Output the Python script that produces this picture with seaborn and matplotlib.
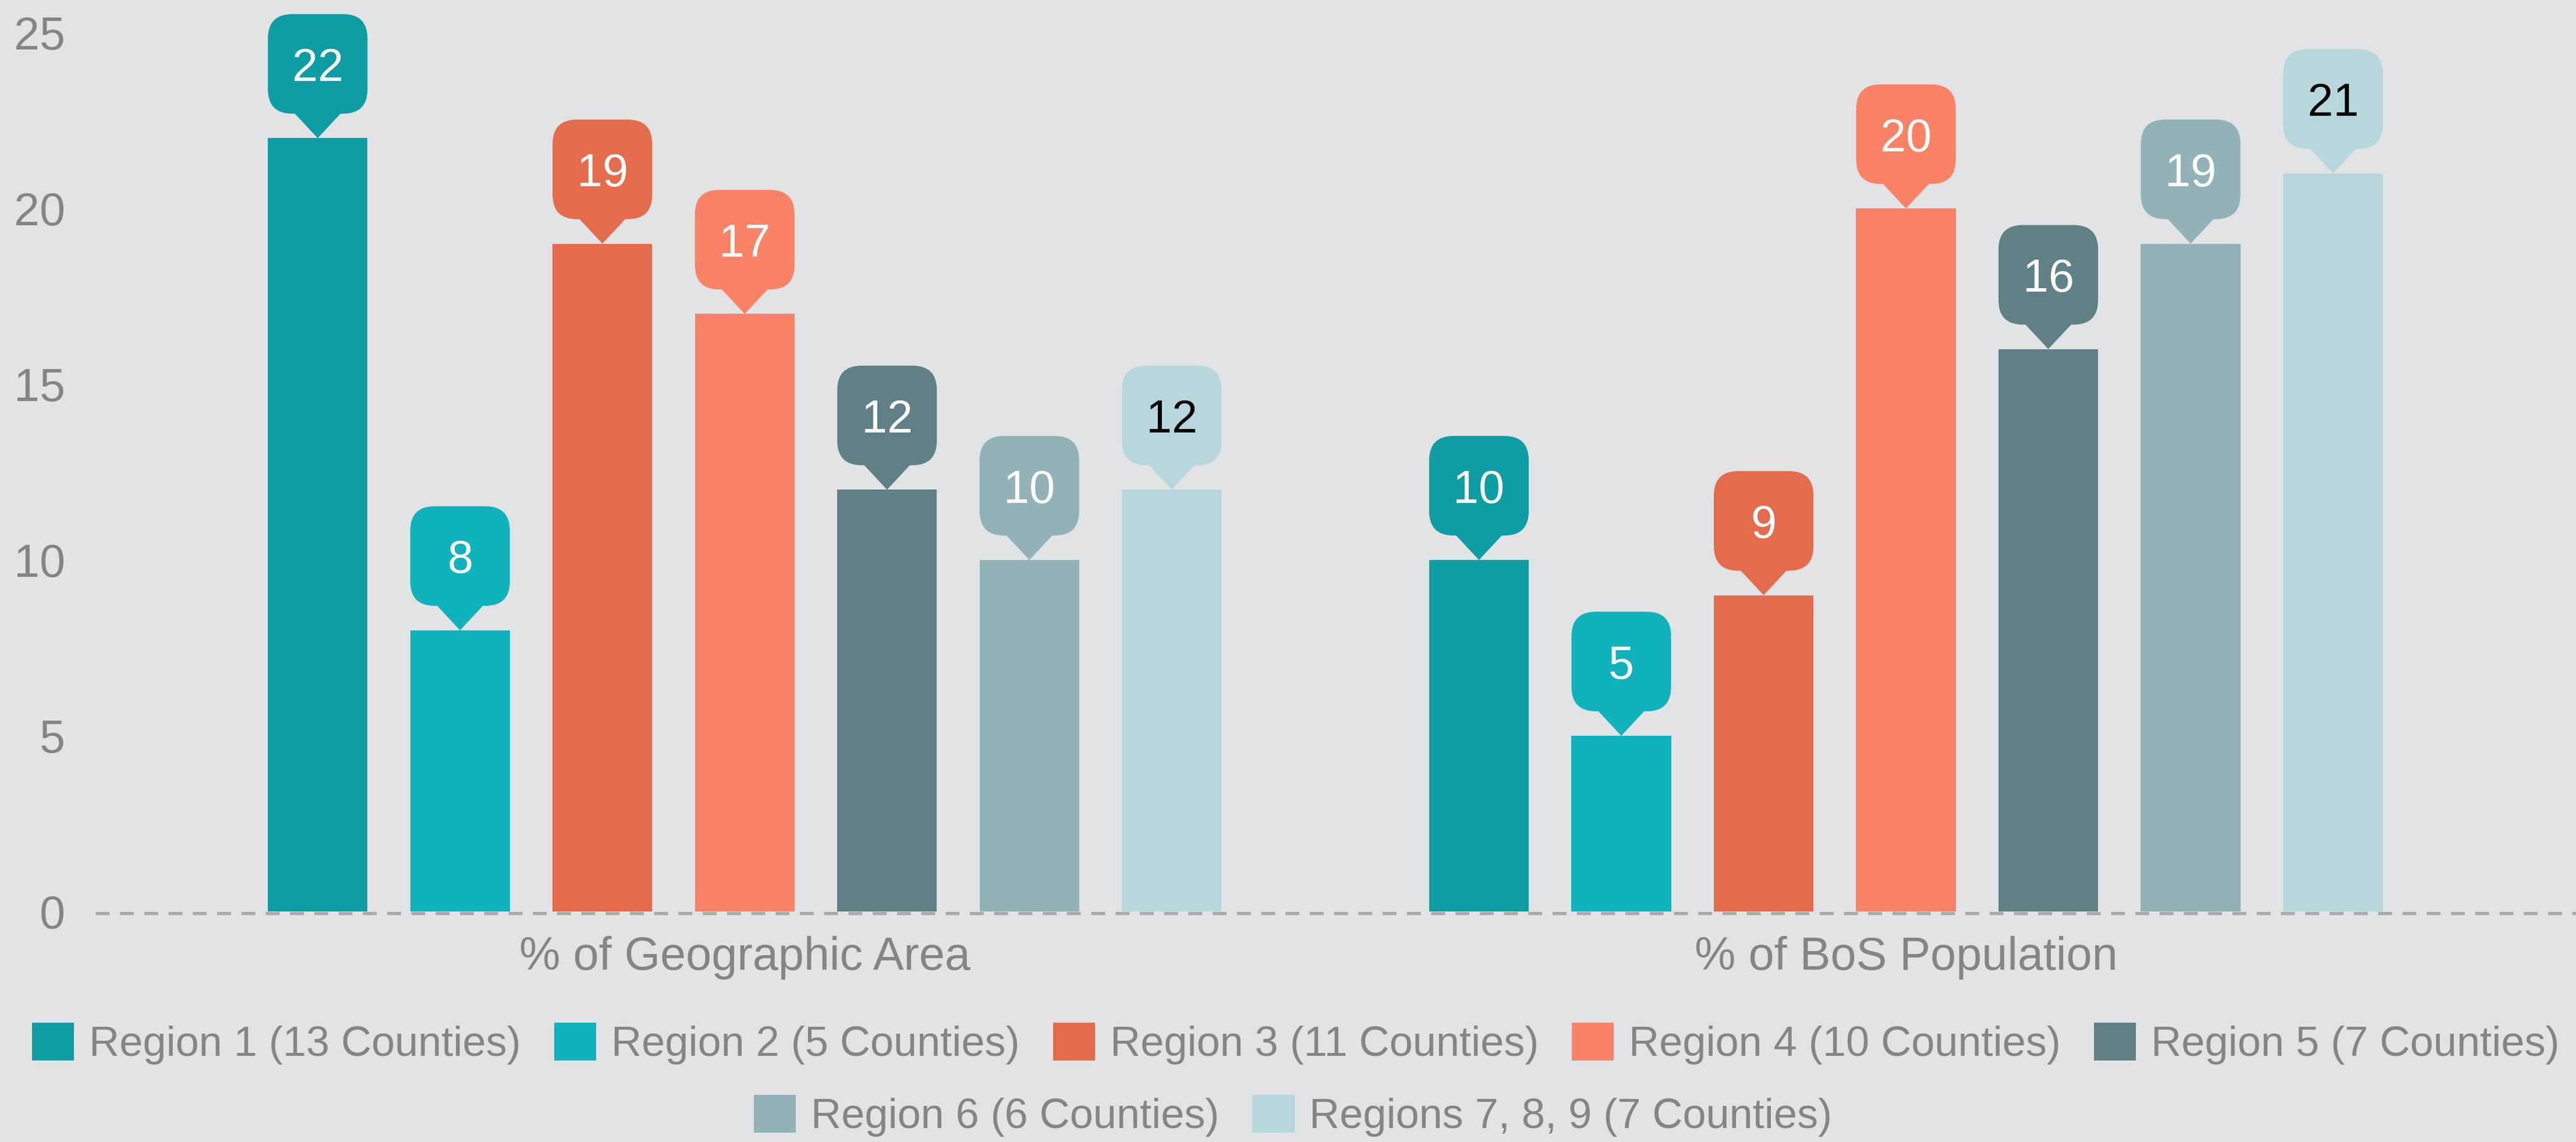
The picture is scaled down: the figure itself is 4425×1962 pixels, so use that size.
import numpy as np
import pandas as pd
import seaborn as sns
import matplotlib.pyplot as plt
import matplotlib.transforms as mtransforms

from matplotlib.patches import FancyBboxPatch, Polygon, Patch

# =============================================================================
# Data
# =============================================================================

metrics = ["% of Geographic Area", "% of BoS Population"]

regions = [
    "Region 1 (13 Counties)",
    "Region 2 (5 Counties)",
    "Region 3 (11 Counties)",
    "Region 4 (10 Counties)",
    "Region 5 (7 Counties)",
    "Region 6 (6 Counties)",
    "Regions 7, 8, 9 (7 Counties)",
]

geo_area = [22, 8, 19, 17, 12, 10, 12]
bos_pop = [10, 5, 9, 20, 16, 19, 21]

colors = ["#0F9DA4", "#10B2BB", "#E56B4D", "#FA8266", "#608086", "#93B2B7", "#B7D7DC"]
label_colors = ["white", "white", "white", "white", "white", "white", "black"]

y_ticks = [0, 5, 10, 15, 20, 25]

df = pd.DataFrame({
    "metric": np.repeat(metrics, len(regions)),
    "region": regions * 2,
    "value": geo_area + bos_pop,
})

# =============================================================================
# Style
# =============================================================================

bg = "#E2E3E5"
grey = "#858585"

sns.set_style("white")
plt.rcParams["font.family"] = ["Liberation Sans", "DejaVu Sans"]

fig = plt.figure(figsize=(14.75, 6.54), dpi=300, facecolor=bg)
ax = fig.add_axes([0.0371, 0.2018, 0.9629, 0.7982])
ax.set_facecolor(bg)

sns.barplot(
    data=df,
    x="metric",
    y="value",
    hue="region",
    order=metrics,
    hue_order=regions,
    palette=colors,
    saturation=1,
    width=0.858,
    gap=0.30,
    errorbar=None,
    legend=False,
    linewidth=0,
    edgecolor="none",
    ax=ax,
)

ax.set_xlim(-0.559, 1.577)
ax.set_ylim(0, 25.93)

ax.set_yticks(y_ticks)
ax.set_xlabel("")
ax.set_ylabel("")
ax.tick_params(axis="y", length=0, pad=12.5, labelsize=19, labelcolor=grey)
ax.tick_params(axis="x", length=0, pad=10, labelsize=19, labelcolor=grey)

for s in ax.spines.values():
    s.set_visible(False)

# dashed baseline just under the bars
ax.axhline(-0.045, color="#A9A9A9", lw=1.3, dashes=(4.4, 3.3), clip_on=False, zorder=0.5)

# =============================================================================
# Callout bubbles
# =============================================================================

ptr_h = 42 / 300      # pointer height, inches
ptr_half = 42 / 300   # half base of pointer, inches
radius = 42 / 300

for cont, tc in zip(ax.containers, label_colors):
    for bar in cont:
        x0 = bar.get_x()
        x1 = x0 + bar.get_width()
        xc = (x0 + x1) / 2
        top = bar.get_height()
        w = (ax.transData.transform((x1, 0))[0] - ax.transData.transform((x0, 0))[0]) / fig.dpi

        t = fig.dpi_scale_trans + mtransforms.ScaledTranslation(xc, top, ax.transData)
        fc = bar.get_facecolor()

        box = FancyBboxPatch(
            (-w / 2, ptr_h), w, w,
            boxstyle=f"round,pad=0,rounding_size={radius}",
            fc=fc, ec="none", transform=t, clip_on=False, zorder=3,
        )
        ax.add_patch(box)

        tri = Polygon(
            [(-ptr_half, ptr_h + 0.01), (ptr_half, ptr_h + 0.01), (0, 0)],
            closed=True, fc=fc, ec="none", transform=t, clip_on=False, zorder=3,
        )
        ax.add_patch(tri)

        ax.text(
            0, ptr_h + w / 2, f"{top:.0f}",
            transform=t, ha="center", va="center_baseline",
            fontsize=19, color=tc, zorder=4,
        )

# =============================================================================
# Legend (two centred rows)
# =============================================================================

handles = [Patch(facecolor=c, edgecolor="none") for c in colors]

leg_kw = dict(
    loc="center",
    frameon=False,
    fontsize=17.3,
    handlelength=1.0,
    handleheight=1.0,
    handletextpad=0.36,
    columnspacing=0.79,
    labelcolor=grey,
    borderaxespad=0,
    borderpad=0,
)

fig.legend(handles[:5], regions[:5], bbox_to_anchor=(0.503, 0.0861), ncol=5, **leg_kw)
fig.legend(handles[5:], regions[5:], bbox_to_anchor=(0.502, 0.0229), ncol=2, **leg_kw)

plt.savefig("out.png", dpi=300, facecolor=bg)
